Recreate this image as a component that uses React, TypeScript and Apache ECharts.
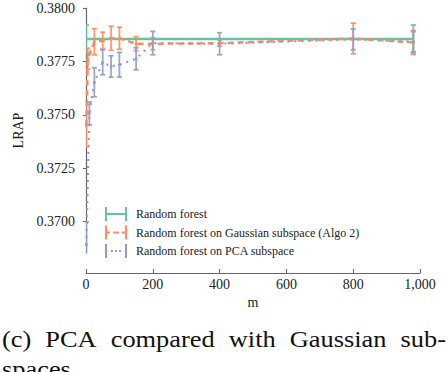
import React, { useEffect, useRef } from "react";
import * as echarts from "echarts";

const seriesNames = [
  "Random forest",
  "Random forest on Gaussian subspace (Algo 2)",
  "Random forest on PCA subspace",
];
const seriesColors = ["#66c2a5", "#fc8d62", "#8da0cb"];

const mForest = [1, 980];
const forestValues = [0.378547, 0.378547];
const forestErrors = [0.000656, 0.000656];

const mGauss = [1, 5, 25, 50, 75, 100, 150, 200, 400, 800, 980];
const gaussValues = [0.374484, 0.377624, 0.378421, 0.378468, 0.378585, 0.378585, 0.378327, 0.378327, 0.378351, 0.378575, 0.378388];
const gaussErrors = [0.000984, 0.000492, 0.000609, 0.000398, 0.000562, 0.000515, 0.000328, 0.000281, 0.00014, 0.000717, 0.000562];

const mPCA = [1, 10, 25, 50, 75, 100, 150, 200, 400, 800, 980];
const pcaValues = [0.368908, 0.37507, 0.376523, 0.37746, 0.377263, 0.377343, 0.377624, 0.37836, 0.378327, 0.378529, 0.378421];
const pcaErrors = [0.001078, 0.000539, 0.000679, 0.000586, 0.000501, 0.000576, 0.000515, 0.000548, 0.000515, 0.000483, 0.000469];

const xTicks = [0, 200, 400, 600, 800, 1000];
const yTicks = [0.37, 0.3725, 0.375, 0.3775, 0.38];

const xName = "m";
const yName = "LRAP";
const captionLine1 = ["(c)", "PCA", "compared", "with", "Gaussian", "sub-"];
const captionLine2 = "spaces";

const SERIF = "Liberation Serif";

const legendIcons = [
  "path://M0,0h2v14h-2zM0,6h22v2h-22zM20,0h2v14h-2z",
  "path://M0,0h2v14h-2zM2,6h3v2h-3zM8,6h6v2h-6zM17,6h3v2h-3zM20,0h2v14h-2z",
  "path://M0,0h2v14h-2zM6,6h2v2h-2zM10,6h2v2h-2zM14,6h2v2h-2zM20,0h2v14h-2z",
];

function errData(ms: number[], vals: number[], errs: number[]) {
  return ms.map((m, i) => [m, vals[i] - errs[i], vals[i] + errs[i]]);
}

function lineData(ms: number[], vals: number[]) {
  return ms.map((m, i) => [m, vals[i]]);
}

function makeErrorSeries(name: string, color: string, data: number[][]) {
  return {
    type: "custom",
    name,
    clip: true,
    itemStyle: { color },
    encode: { x: 0, y: [1, 2] },
    data,
    z: 3,
    renderItem: (params: any, api: any) => {
      const x = api.value(0);
      const lo = api.coord([x, api.value(1)]);
      const hi = api.coord([x, api.value(2)]);
      const cw = 2.6;
      const style = { stroke: color, lineWidth: 1.8, opacity: 0.9 };
      return {
        type: "group",
        children: [
          { type: "line", shape: { x1: lo[0], y1: lo[1], x2: hi[0], y2: hi[1] }, style },
          { type: "line", shape: { x1: lo[0] - cw, y1: lo[1], x2: lo[0] + cw, y2: lo[1] }, style },
          { type: "line", shape: { x1: hi[0] - cw, y1: hi[1], x2: hi[0] + cw, y2: hi[1] }, style },
        ],
      };
    },
  };
}

function justifyWords(words: string[], font: string, scale: number, left: number, right: number) {
  const ctx = document.createElement("canvas").getContext("2d") as CanvasRenderingContext2D;
  ctx.font = font;
  const widths = words.map((w) => ctx.measureText(w).width * scale);
  const total = widths.reduce((a, b) => a + b, 0);
  const gap = (right - left - total) / (words.length - 1);
  const xs: number[] = [];
  let x = left;
  for (let i = 0; i < words.length; i++) {
    xs.push(x);
    x += widths[i] + gap;
  }
  return xs;
}

export default function App() {
  const ref = useRef<HTMLDivElement>(null);
  useEffect(() => {
    if (!ref.current) return;
    const chart = echarts.init(ref.current, undefined, { renderer: "svg" });
    const capSize = 24;
    const capScale = 1.1;
    const capFont = `${capSize}px "Liberation Serif"`;
    const xs = justifyWords(captionLine1, capFont, capScale, 2, 446);
    const captionEls: any[] = captionLine1.map((w, i) => ({
      type: "text",
      x: xs[i],
      y: 339,
      scaleX: capScale,
      style: { text: w, fontSize: capSize, fontFamily: SERIF, fill: "#111", verticalAlign: "middle", align: "left" },
    }));
    captionEls.push({
      type: "text",
      x: 2,
      y: 369,
      scaleX: capScale,
      style: { text: captionLine2, fontSize: capSize, fontFamily: SERIF, fill: "#111", verticalAlign: "middle", align: "left" },
    });

    const option: any = {
      animation: false,
      backgroundColor: "#ffffff",
      textStyle: { fontFamily: SERIF },
      grid: { left: 86, right: 28, top: 8, bottom: 119, containLabel: false, outerBoundsMode: "none" },
      legend: {
        left: 100,
        top: 202,
        orient: "vertical",
        itemWidth: 22,
        itemHeight: 14,
        itemGap: 4.5,
        selectedMode: false,
        textStyle: { fontFamily: SERIF, fontSize: 12, color: "#222", padding: [0, 0, 0, 4] },
        data: seriesNames.map((n, i) => ({ name: n, icon: legendIcons[i] })),
      },
      xAxis: {
        type: "value",
        min: xTicks[0],
        max: xTicks[xTicks.length - 1],
        interval: 200,
        offset: 20,
        name: xName,
        nameLocation: "middle",
        nameGap: 20,
        nameTextStyle: { fontFamily: SERIF, fontSize: 14, color: "#222" },
        axisLine: { lineStyle: { color: "#666", width: 1.2 } },
        axisTick: { inside: true, length: 4, lineStyle: { color: "#666" } },
        axisLabel: { fontFamily: SERIF, fontSize: 14, color: "#222", margin: 4 },
        splitLine: { show: false },
      },
      yAxis: {
        type: "value",
        min: 0.36853,
        max: 0.38,
        offset: 8,
        name: yName,
        nameLocation: "middle",
        nameGap: 53,
        nameTextStyle: { fontFamily: SERIF, fontSize: 14, color: "#222" },
        axisLine: { show: true, lineStyle: { color: "#666", width: 1.2 } },
        axisTick: { show: true, inside: false, length: 3, customValues: yTicks, lineStyle: { color: "#666" } },
        axisLabel: {
          fontFamily: SERIF,
          fontSize: 14,
          color: "#222",
          margin: 3,
          customValues: yTicks,
          formatter: (v: number) => v.toFixed(4),
        },
        splitLine: { show: false },
      },
      graphic: captionEls,
      series: [
        makeErrorSeries(seriesNames[0], seriesColors[0], errData(mForest, forestValues, forestErrors)),
        makeErrorSeries(seriesNames[1], seriesColors[1], errData(mGauss, gaussValues, gaussErrors)),
        makeErrorSeries(seriesNames[2], seriesColors[2], errData(mPCA, pcaValues, pcaErrors)),
        {
          type: "line",
          name: seriesNames[0],
          data: lineData(mForest, forestValues),
          showSymbol: false,
          lineStyle: { color: seriesColors[0], width: 2.5 },
          itemStyle: { color: seriesColors[0] },
          z: 2,
        },
        {
          type: "line",
          name: seriesNames[1],
          data: lineData(mGauss, gaussValues),
          symbol: "circle",
          symbolSize: 3,
          lineStyle: { color: seriesColors[1], width: 2.5, type: [6, 4] },
          itemStyle: { color: seriesColors[1] },
          z: 2,
        },
        {
          type: "line",
          name: seriesNames[2],
          data: lineData(mPCA, pcaValues),
          symbol: "circle",
          symbolSize: 3,
          lineStyle: { color: seriesColors[2], width: 2.2, type: [2, 5] },
          itemStyle: { color: seriesColors[2] },
          z: 2,
        },
      ],
    };
    chart.setOption(option);
    return () => chart.dispose();
  }, []);
  return (
    <div
      ref={ref}
      style={{ position: "fixed", left: 0, top: 0, width: 448, height: 372, background: "#fff" }}
    />
  );
}
